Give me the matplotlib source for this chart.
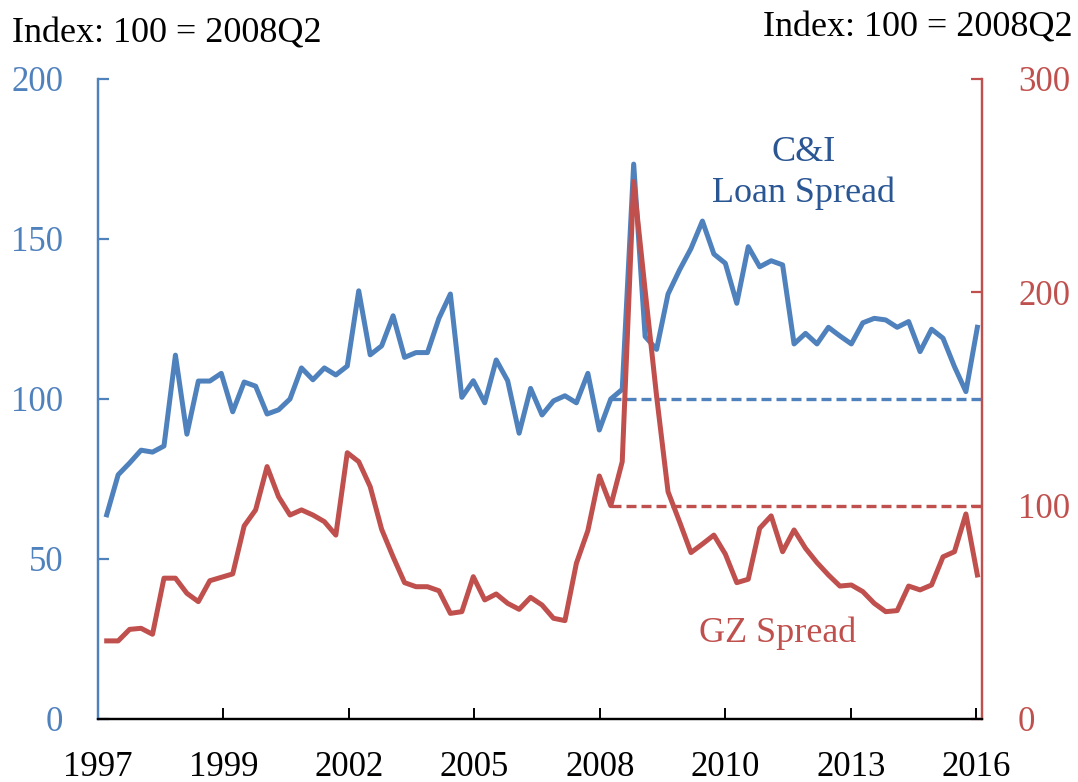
import numpy as np
import matplotlib
matplotlib.use("Agg")
import matplotlib.pyplot as plt

plt.rcParams['font.family'] = ['Liberation Serif', 'DejaVu Serif']

# quarterly, 1997Q2 - 2016Q2, index 100 = 2008Q2
ci_spread = [63.8, 76.3, 80.0, 84.0, 83.4, 85.3, 113.7, 89.0, 105.6, 105.6,
             108.0, 96.0, 105.3, 104.0, 95.3, 96.6, 100.0, 109.7, 106.0, 109.7,
             107.5, 110.3, 133.8, 113.8, 116.6, 126.0, 113.0, 114.5, 114.5, 125.2,
             132.8, 100.5, 105.7, 98.8, 112.2, 105.7, 89.3, 103.3, 95.0, 99.4,
             101.0, 98.8, 108.0, 90.3, 100.0, 103.0, 173.4, 119.5, 115.5, 132.8,
             140.3, 147.0, 155.6, 145.3, 142.4, 129.9, 147.6, 141.3, 143.2, 141.9,
             117.2, 120.5, 117.2, 122.4, 119.7, 117.2, 123.8, 125.2, 124.7, 122.4,
             124.2, 114.8, 121.8, 119.0, 110.1, 102.3, 122.4]

gz_spread = [36.6, 36.6, 42.0, 42.5, 39.7, 66.0, 66.0, 58.9, 55.0, 64.8,
             66.4, 68.0, 90.5, 98.0, 118.3, 104.2, 95.6, 98.0, 95.6, 92.5,
             86.2, 124.8, 120.6, 108.9, 88.9, 76.0, 63.9, 62.0, 62.0, 60.1,
             49.5, 50.3, 66.7, 55.8, 58.6, 54.2, 51.4, 57.0, 53.4, 47.2,
             46.1, 73.0, 88.3, 113.9, 100.0, 120.6, 251.9, 200.9, 151.3, 106.5,
             92.5, 78.0, 82.0, 86.2, 77.3, 63.9, 65.5, 89.4, 95.2, 78.4,
             88.6, 80.0, 73.3, 67.5, 62.3, 62.8, 59.7, 54.2, 50.3, 50.8,
             62.3, 60.5, 62.8, 76.0, 78.4, 96.1, 67.5]

year_labels = ['1997', '1999', '2002', '2005', '2008', '2010', '2013', '2016']
base_q = 44  # position of 2008Q2

blue = '#4F81BD'
red = '#C0504D'
dark_blue = '#2A5694'

t = np.arange(len(ci_spread))

fig = plt.figure(figsize=(10.78, 7.82), dpi=100)
ax = fig.add_axes([0.0909, 0.0806, 0.82, 0.8184])
ax2 = ax.twinx()

ax.plot(t, ci_spread, color=blue, lw=3.6, solid_joinstyle='round')
ax.plot([base_q, t[-1] + 0.4], [100, 100], color=blue, lw=2.4, ls=(0, (3, 1.5)))
ax2.plot(t, gz_spread, color=red, lw=3.6, solid_joinstyle='round')
ax2.plot([base_q, t[-1] + 0.4], [100, 100], color=red, lw=2.4, ls=(0, (3, 1.5)))

ax.set_xlim(-0.76, 76.4)
ax.set_ylim(0, 200)
ax2.set_ylim(0, 300)
ax.set_yticks([0, 50, 100, 150, 200])
ax2.set_yticks([0, 100, 200, 300])
ax.set_xticks(np.linspace(-0.76, 75.9, 8))
ax.set_xticklabels(year_labels)

for a in (ax, ax2):
    a.spines['top'].set_visible(False)
    a.spines['left'].set_color(blue)
    a.spines['right'].set_color(red)
    a.spines['bottom'].set_color('black')
    for s in a.spines.values():
        s.set_linewidth(1.6)

ax.tick_params(axis='x', direction='in', length=8, width=1.4, colors='black',
               labelsize=25, pad=23)
ax.tick_params(axis='y', direction='in', length=8, width=1.6, colors=blue,
               labelcolor=blue, labelsize=25, pad=25)
ax2.tick_params(axis='y', direction='in', length=8, width=1.6, colors=red,
                labelcolor=red, labelsize=25, pad=26)

ax.text(60.8, 170.5, 'C&I\nLoan Spread', color=dark_blue, fontsize=26,
        ha='center', va='center', linespacing=1.3)
ax2.text(58.6, 40, 'GZ Spread', color=red, fontsize=26, ha='center', va='center')

fig.text(12 / 1078, 1 - 34 / 782, 'Index: 100 = 2008Q2', fontsize=26,
         ha='left', va='center')
fig.text(1073 / 1078, 1 - 28 / 782, 'Index: 100 = 2008Q2', fontsize=26,
         ha='right', va='center')

fig.savefig('out.png', dpi=100)
